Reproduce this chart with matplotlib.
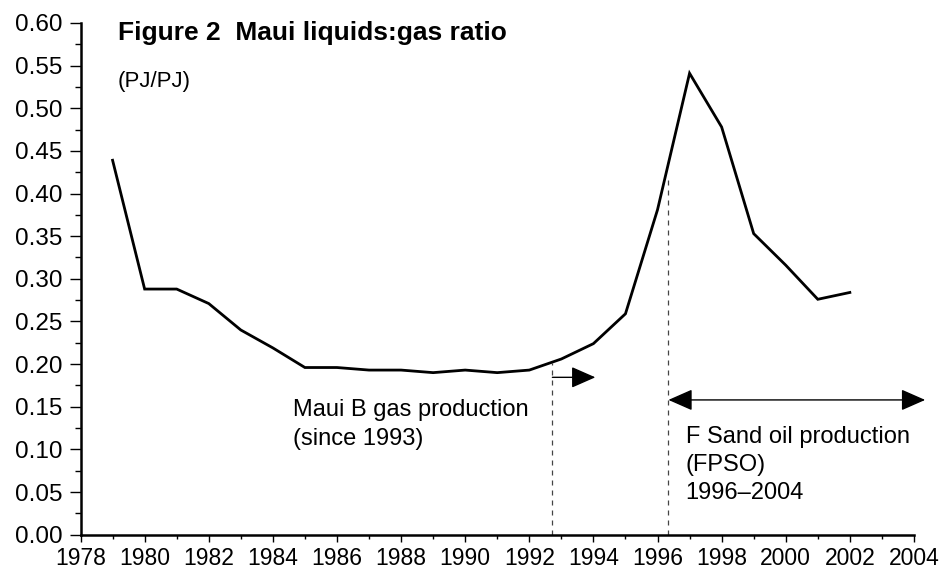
import matplotlib.pyplot as plt
from matplotlib.ticker import MultipleLocator

plt.rcParams['font.family'] = ['Liberation Sans', 'DejaVu Sans']

# liquids:gas ratio by year (PJ/PJ)
years = list(range(1979, 2003))
ratio = [0.439, 0.288, 0.288, 0.271, 0.240, 0.219, 0.196, 0.196, 0.193, 0.193,
         0.190, 0.193, 0.190, 0.193, 0.206, 0.224, 0.259, 0.381, 0.541, 0.478,
         0.353, 0.316, 0.276, 0.284]

maui_b_start = 1992.72
fpso_start = 1996.34
fpso_end = 2004.35

fig = plt.figure(figsize=(9.43, 5.74), dpi=100)
ax = fig.add_axes([0.0854, 0.0685, 0.8838, 0.8915])

ax.plot(years, ratio, color='black', lw=2.0, solid_joinstyle='miter', zorder=3)

# vertical dashed markers
ax.plot([maui_b_start, maui_b_start], [0, 0.201], color='#444444', lw=0.9,
        linestyle=(0, (4, 4)))
ax.plot([fpso_start, fpso_start], [0, 0.418], color='#444444', lw=0.9,
        linestyle=(0, (4, 4)))

arrow = dict(arrowstyle='-|>,head_length=0.75,head_width=0.33', color='black',
             lw=1.0, mutation_scale=20, shrinkA=0, shrinkB=0)
ax.annotate('', xy=(1994.06, 0.1845), xytext=(maui_b_start, 0.1845),
            arrowprops=arrow, annotation_clip=False)
arrow2 = dict(arrow, arrowstyle='<|-|>,head_length=0.75,head_width=0.33')
ax.annotate('', xy=(fpso_end, 0.158), xytext=(fpso_start, 0.158),
            arrowprops=arrow2, annotation_clip=False)

ax.text(1984.62, 0.159, 'Maui B gas production\n(since 1993)', fontsize=17,
        va='top', ha='left', linespacing=1.4)
ax.text(1996.88, 0.127, 'F Sand oil production\n(FPSO)\n1996\u20132004', fontsize=17,
        va='top', ha='left', linespacing=1.35)

ax.text(0.045, 0.966, 'Figure 2  Maui liquids:gas ratio', transform=ax.transAxes,
        fontsize=19, fontweight='bold', va='baseline', ha='left')
ax.text(0.045, 0.874, '(PJ/PJ)', transform=ax.transAxes, fontsize=16,
        va='baseline', ha='left')

ax.set_xlim(1978, 2004)
ax.set_ylim(0, 0.6)
ax.xaxis.set_major_locator(MultipleLocator(2))
ax.xaxis.set_minor_locator(MultipleLocator(1))
ax.yaxis.set_major_locator(MultipleLocator(0.05))
ax.yaxis.set_minor_locator(MultipleLocator(0.025))
ax.yaxis.set_major_formatter(plt.FormatStrFormatter('%.2f'))

for s in ['top', 'right']:
    ax.spines[s].set_visible(False)
for s in ['left', 'bottom']:
    ax.spines[s].set_linewidth(1.8)

ax.tick_params(axis='both', which='both', direction='out', width=1.0)
ax.tick_params(axis='y', which='major', length=8, pad=5, labelsize=17.5)
ax.tick_params(axis='y', which='minor', length=4)
ax.tick_params(axis='x', which='major', length=5, pad=4, labelsize=16.5)
ax.tick_params(axis='x', which='minor', length=3)

fig.savefig('out.png', dpi=100)
